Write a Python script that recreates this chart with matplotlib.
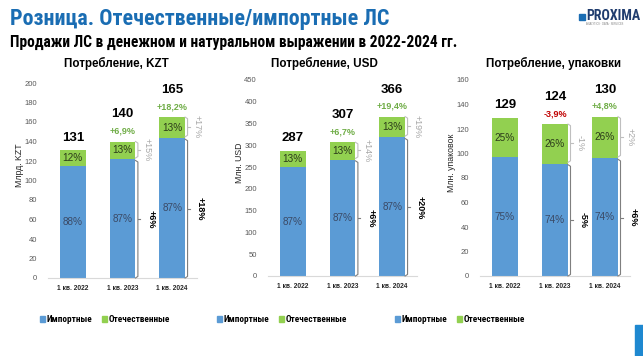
import matplotlib
matplotlib.use("Agg")
import matplotlib.pyplot as plt
from matplotlib.patches import Rectangle
from matplotlib.lines import Line2D

# ---------------- data ----------------
periods = ["1 кв. 2022", "1 кв. 2023", "1 кв. 2024"]

kzt_import = [115.3, 121.8, 143.6]
kzt_domestic = [15.7, 18.2, 21.4]
kzt_totals = ["131", "140", "165"]
kzt_import_pct = ["88%", "87%", "87%"]
kzt_domestic_pct = ["12%", "13%", "13%"]
kzt_growth = ["", "+6,9%", "+18,2%"]
kzt_import_growth = ["", "+6%", "+18%"]
kzt_domestic_growth = ["", "+15%", "+17%"]

usd_import = [249.7, 267.1, 318.4]
usd_domestic = [37.3, 39.9, 47.6]
usd_totals = ["287", "307", "366"]
usd_import_pct = ["87%", "87%", "87%"]
usd_domestic_pct = ["13%", "13%", "13%"]
usd_growth = ["", "+6,7%", "+19,4%"]
usd_import_growth = ["", "+6%", "+20%"]
usd_domestic_growth = ["", "+14%", "+19%"]

pack_import = [96.8, 91.8, 96.2]
pack_domestic = [32.2, 32.2, 33.8]
pack_totals = ["129", "124", "130"]
pack_import_pct = ["75%", "74%", "74%"]
pack_domestic_pct = ["25%", "26%", "26%"]
pack_growth = ["", "-3,9%", "+4,8%"]
pack_import_growth = ["", "-5%", "+6%"]
pack_domestic_growth = ["", "-1%", "+2%"]

legend_labels = ["Импортные", "Отечественные"]

# ---------------- style ----------------
BLUE = "#5b9bd5"
GREEN = "#92d050"
GREEN_TXT = "#70ad47"
RED_TXT = "#c00000"
TITLE_BLUE = "#1a6db3"
NARROW = ["Roboto Condensed", "Open Sans Condensed", "Liberation Sans Narrow", "DejaVu Sans"]
plt.rcParams["font.family"] = ["Liberation Sans", "DejaVu Sans"]

W, H = 643, 356
fig = plt.figure(figsize=(W / 100, H / 100), dpi=100)
fig.patch.set_facecolor("white")


def px(x, y):
    return x / W, 1 - y / H


panels = [
    dict(rect=(48, 83, 149, 278), ymax=200, step=20, ylabel="Млрд. KZT",
         title="Потребление, KZT", title_x=116,
         imp=kzt_import, dom=kzt_domestic, tot=kzt_totals, ip=kzt_import_pct,
         dp=kzt_domestic_pct, gr=kzt_growth, ig=kzt_import_growth,
         dg=kzt_domestic_growth, ylab_x=19, leg_x=40),
    dict(rect=(268, 80, 149, 276), ymax=450, step=50, ylabel="Млн. USD",
         title="Потребление, USD", title_x=324,
         imp=usd_import, dom=usd_domestic, tot=usd_totals, ip=usd_import_pct,
         dp=usd_domestic_pct, gr=usd_growth, ig=usd_import_growth,
         dg=usd_domestic_growth, ylab_x=239, leg_x=217),
    dict(rect=(480, 80, 150, 276), ymax=160, step=20, ylabel="Млн. упаковок",
         title="Потребление, упаковки", title_x=553,
         imp=pack_import, dom=pack_domestic, tot=pack_totals, ip=pack_import_pct,
         dp=pack_domestic_pct, gr=pack_growth, ig=pack_import_growth,
         dg=pack_domestic_growth, ylab_x=451, leg_x=395),
]

for p in panels:
    x0, ytop, w, ybot = p["rect"]
    ax = fig.add_axes([x0 / W, 1 - ybot / H, w / W, (ybot - ytop) / H])
    ax.set_xlim(-0.5, 2.5)
    ax.set_ylim(0, p["ymax"])
    xs = list(range(len(periods)))
    bw = 0.52
    ax.bar(xs, p["imp"], width=bw, color=BLUE, zorder=2)
    ax.bar(xs, p["dom"], width=bw, bottom=p["imp"], color=GREEN, zorder=2)
    for sp in ["top", "right", "left"]:
        ax.spines[sp].set_visible(False)
    ax.spines["bottom"].set_color("#d9d9d9")
    ax.spines["bottom"].set_linewidth(0.8)
    ax.set_yticks(range(0, p["ymax"] + 1, p["step"]))
    ax.tick_params(axis="y", length=0, labelsize=5.5, labelcolor="#595959", pad=8)
    ax.set_xticks(xs)
    ax.set_xticklabels(periods, fontsize=4.8, fontweight="bold", color="#262626")
    ax.tick_params(axis="x", length=0, pad=5)
    ax.patch.set_alpha(0)

    for i in xs:
        imp = p["imp"][i]
        dom = p["dom"][i]
        top = imp + dom
        ax.text(i, imp / 2, p["ip"][i], ha="center", va="center", fontsize=7.2,
                color="#3b4a66", zorder=3)
        ax.text(i, imp + dom / 2, p["dp"][i], ha="center", va="center", fontsize=7.2,
                color="#2b3a1a", zorder=3)
        if p["gr"][i]:
            col = RED_TXT if p["gr"][i].startswith("-") else GREEN_TXT
            ax.annotate(p["gr"][i], (i, top), xytext=(0, 7.5), textcoords="offset points",
                        ha="center", va="center", fontsize=6.5, color=col, fontweight="bold")
            ax.annotate(p["tot"][i], (i, top), xytext=(0, 19.5), textcoords="offset points",
                        ha="center", va="center", fontsize=9.5, color="black", fontweight="bold")
        else:
            ax.annotate(p["tot"][i], (i, top), xytext=(0, 9), textcoords="offset points",
                        ha="center", va="center", fontsize=9.5, color="black", fontweight="bold")

        if p["ig"][i]:
            gap = p["ymax"] * 0.006
            bx = i + 0.31
            for (y0, y1, col, lab, lcol, dx, fw) in [
                (0, imp - gap, "#7f7f7f", p["ig"][i], "black", 0.57, "bold"),
                (imp + gap, top, "#bfbfbf", p["dg"][i], "#a6a6a6", 0.5, "normal"),
            ]:
                ax.add_line(Line2D([bx - 0.05, bx, bx, bx - 0.05],
                                   [y0, y0 + p["ymax"] * 0.008, y1 - p["ymax"] * 0.008, y1],
                                   color=col, lw=0.8, zorder=3, clip_on=False))
                ym = (y0 + y1) / 2
                ax.add_line(Line2D([bx, bx + 0.05], [ym, ym], color=col, lw=0.8,
                                   zorder=3, clip_on=False))
                ax.text(i + dx, ym, lab, rotation=-90, ha="center", va="center",
                        fontsize=6.5, color=lcol, fontweight=fw, clip_on=False)

    fx, fy = px(p["ylab_x"], (ytop + ybot) / 2 - 15)
    fig.text(fx, fy, p["ylabel"], rotation=90, ha="center", va="center",
             fontsize=6.3, color="#262626")
    tx, ty = px(p["title_x"], 63)
    fig.text(tx, ty, p["title"], ha="center", va="center", fontsize=8.4,
             fontweight="bold", color="black")

    handles = [Rectangle((0, 0), 1, 1, color=BLUE), Rectangle((0, 0), 1, 1, color=GREEN)]
    lx, ly = px(p["leg_x"], 320)
    fig.legend(handles, legend_labels, loc="center left", bbox_to_anchor=(lx, ly),
               ncol=2, frameon=False, handlelength=0.55, handleheight=0.55,
               handletextpad=0.2, columnspacing=1.0, borderaxespad=0, borderpad=0,
               prop=dict(family=NARROW, weight="bold", size=6.7))

# ---------------- headings ----------------
fig.text(10 / W, 1 - 19 / H, "Розница. Отечественные/импортные ЛС", ha="left", va="center",
         fontsize=15.8, fontweight="bold", color=TITLE_BLUE, family=NARROW)
fig.text(10 / W, 1 - 42 / H, "Продажи ЛС в денежном и натуральном выражении в 2022-2024 гг.",
         ha="left", va="center", fontsize=11.2, fontweight="bold", color="black", family=NARROW)

# logo
fig.patches.append(Rectangle(px(579, 20), 6 / W, 6 / H, transform=fig.transFigure,
                             color="#1a6db3"))
fig.text(586 / W, 1 - 16 / H, "PROXIMA", ha="left", va="center", fontsize=10,
         fontweight="bold", color="#1f3c6e", family=NARROW)
fig.text(586 / W, 1 - 24 / H, "ANALYTICS · DATA · SERVICES", ha="left", va="center",
         fontsize=1.8, color="#7f7f7f")
# corner block
fig.patches.append(Rectangle(px(635, 356), 8 / W, 31 / H, transform=fig.transFigure,
                             color="#1e88d0"))

fig.savefig("out.png", dpi=100, facecolor="white")
